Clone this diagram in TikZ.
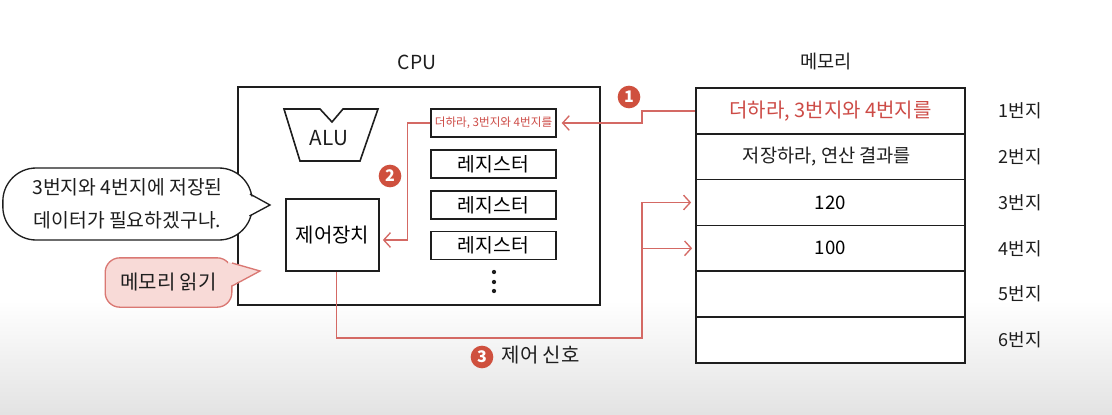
\documentclass[tikz,border=0pt]{standalone}
\usepackage{fontspec}
\setmainfont{Noto Sans CJK KR}
\usetikzlibrary{arrows.meta,calc}
\definecolor{redtxt}{RGB}{205,75,70}
\definecolor{redln}{RGB}{212,105,100}
\definecolor{badge}{RGB}{207,80,62}
\definecolor{pinkfill}{RGB}{248,218,215}
\definecolor{pinkln}{RGB}{218,120,115}
\definecolor{ink}{RGB}{30,30,30}
\tikzset{
  box/.style={draw=ink, line width=1.3pt, fill=white, inner sep=0pt},
  reg/.style={box, line width=1.1pt, minimum width=93.75pt, minimum height=21pt, font=\fontsize{14.5}{16}\selectfont},
  memrow/.style={box, minimum width=201.75pt, minimum height=34.35pt, font=\fontsize{14}{16}\selectfont},
  addr/.style={font=\fontsize{13.5}{15}\selectfont, text=ink},
  lbl/.style={font=\fontsize{14}{16}\selectfont, text=ink},
  redline/.style={draw=redln, line width=1pt},
  redarrow/.style={redline, -{Straight Barb[length=5pt,width=11pt,line width=1pt]}},
  badgenode/.style={circle, fill=badge, text=white, minimum size=17pt, inner sep=0pt, font=\bfseries\fontsize{12}{13}\selectfont},
}
\begin{document}
\begin{tikzpicture}[x=0.75pt,y=-0.75pt]
\useasboundingbox (0,0) rectangle (1112,414);
\fill[white] (0,0) rectangle (1112,414);
\shade[top color=white, bottom color=black!11] (0,300) rectangle (1112,414);

% CPU
\node[lbl, font=\fontsize{14.5}{16}\selectfont] (cpulbl) at (417,62) {CPU};
\node[box, minimum width=271.5pt, minimum height=163.5pt] (cpu) at (419,196) {};
\draw[ink, line width=1.2pt, fill=white] (284,109) -- (320,109) -- (332,122) -- (343,109) -- (378,109) -- (360,161) -- (300,161) -- cycle;
\node[lbl, font=\fontsize{15.5}{17}\selectfont] (alu) at (329,138) {ALU};
\node[box, minimum width=69.75pt, minimum height=54pt, font=\fontsize{15}{17}\selectfont] (ctrl) at (332.5,235) {제어장치};

\node[reg, font=\fontsize{8.7}{10}\selectfont, text=redtxt] (r0) at (493.5,123) {더하라, 3번지와 4번지를};
\node[reg] (r1) at (493.5,164) {레지스터};
\node[reg] (r2) at (493.5,205) {레지스터};
\node[reg] (r3) at (493.5,245.5) {레지스터};
\foreach \yy in {272,282,291} \fill[ink] (494,\yy) circle (1.6pt);

% Memory
\node[lbl] (memlbl) at (826,62) {메모리};
\node[memrow, text=redtxt, font=\fontsize{15}{17}\selectfont] (m1) at (830.5,110.9) {더하라, 3번지와 4번지를};
\node[memrow] (m2) at (830.5,156.7) {};
\node[memrow] (m3) at (830.5,202.5) {120};
\node[memrow] (m4) at (830.5,248.3) {100};
\node[memrow] (m5) at (830.5,294.1) {};
\node[memrow] (m6) at (830.5,339.9) {};
\node[font=\fontsize{14}{16}\selectfont, text=ink] (v2) at (827,156.7) {저장하라, 연산 결과를};
\node[addr] (a1) at (1020,110.9) {1번지};
\node[addr] (a2) at (1020,156.7) {2번지};
\node[addr] (a3) at (1020,202.5) {3번지};
\node[addr] (a4) at (1020,248.3) {4번지};
\node[addr] (a5) at (1020,294.1) {5번지};
\node[addr] (a6) at (1020,339.9) {6번지};

% Step 1
\draw[redarrow] (m1.west) -- ++(-53,0) |- ($(r0.east)+(5,0)$);
\node[badgenode] (b1) at (629,97) {1};
% Step 2
\draw[redarrow] (r0.west) -- ++(-23,0) |- ($(ctrl.east)+(3,5)$);
\node[badgenode] (b2) at (390,176) {2};
% Step 3
\coordinate (sigc) at (642,338);
\draw[redarrow] ($(ctrl.south)+(4,0)$) |- (sigc) |- ($(m3.west)+(-4,0)$);
\draw[redarrow] (sigc |- m4.west) -- ($(m4.west)+(-3,0)$);
\node[badgenode] (b3) at (482,357) {3};
\node[lbl, anchor=west, font=\fontsize{15}{17}\selectfont] (sig) at (497,355) {제어 신호};

% Speech bubble
\node[draw=ink, line width=1pt, fill=white, rounded corners=25pt, minimum width=187pt, minimum height=54pt, align=center, font=\fontsize{14.5}{25}\selectfont, text=ink] (bub) at (127.5,204) {3번지와 4번지에 저장된\\데이터가 필요하겠구나.};
\fill[white] (244,193) -- (270,205) -- (244,218) -- cycle;
\draw[ink, line width=1pt] (250,194) -- (270,205) -- (249.5,216);

% Pink bubble
\node[draw=pinkln, line width=1pt, fill=pinkfill, rounded corners=11pt, minimum width=95pt, minimum height=37pt, font=\fontsize{15}{17}\selectfont, text=ink] (read) at (168.5,282.5) {메모리 읽기};
\fill[pinkfill] (228,262) -- (260,271) -- (228,287) -- cycle;
\draw[pinkln, line width=1pt] (232,263) -- (260,271) -- (232,286);
\end{tikzpicture}
\end{document}
